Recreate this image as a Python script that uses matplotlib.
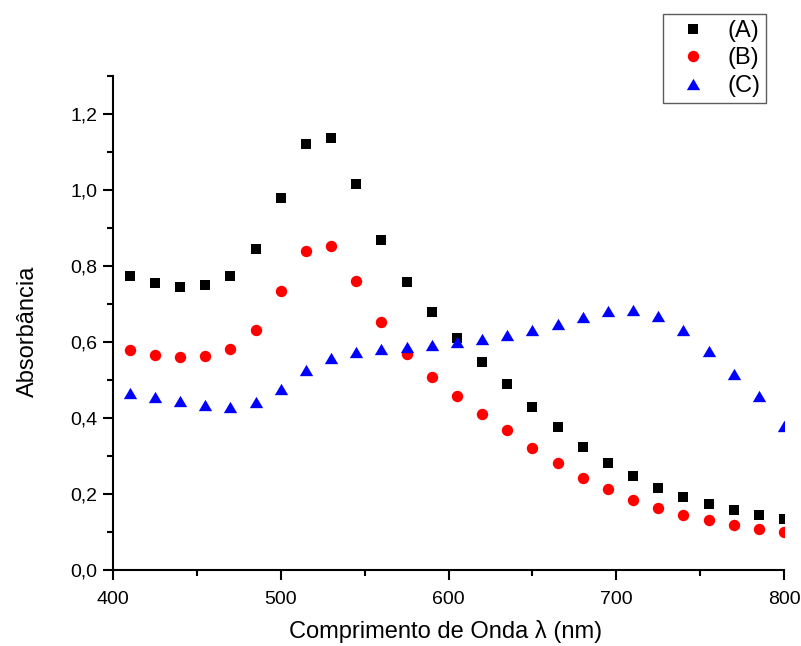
import matplotlib
matplotlib.use("Agg")
from matplotlib import pyplot as plt
from matplotlib.ticker import MultipleLocator, FuncFormatter

plt.rcParams['font.family'] = ['Liberation Sans', 'DejaVu Sans']

# wavelength (nm)
wavelength = [410, 425, 440, 455, 470, 485, 500, 515, 530, 545, 560, 575, 590, 605,
              620, 635, 650, 665, 680, 695, 710, 725, 740, 755, 770, 785, 800]

abs_a = [0.772, 0.755, 0.745, 0.749, 0.773, 0.843, 0.979, 1.121, 1.136, 1.015,
         0.868, 0.758, 0.678, 0.610, 0.548, 0.488, 0.430, 0.375, 0.324, 0.282,
         0.246, 0.216, 0.192, 0.174, 0.157, 0.146, 0.135]
abs_b = [0.578, 0.566, 0.559, 0.562, 0.580, 0.632, 0.733, 0.840, 0.852, 0.760,
         0.651, 0.567, 0.508, 0.458, 0.411, 0.367, 0.322, 0.282, 0.243, 0.212,
         0.184, 0.162, 0.144, 0.131, 0.118, 0.109, 0.100]
abs_c = [0.465, 0.455, 0.444, 0.434, 0.430, 0.442, 0.476, 0.525, 0.558, 0.574,
         0.580, 0.587, 0.593, 0.599, 0.607, 0.619, 0.631, 0.647, 0.665, 0.680,
         0.683, 0.668, 0.630, 0.576, 0.515, 0.457, 0.380]

labels = ['(A)', '(B)', '(C)']

# flattened triangle, a bit wider than tall
tri = [(0, 0.85), (-1, -0.85), (1, -0.85), (0, 0.85)]

fig = plt.figure(figsize=(8.01, 6.46), dpi=100)
ax = fig.add_axes([0.1411, 0.1176, 0.8377, 0.7652])

ax.plot(wavelength, abs_a, linestyle='none', marker='s', ms=7.6, color='black',
        markeredgewidth=0, label=labels[0])
ax.plot(wavelength, abs_b, linestyle='none', marker='o', ms=8.2, color='red',
        markeredgewidth=0, label=labels[1])
ax.plot(wavelength, abs_c, linestyle='none', marker=tri, ms=9.6, color='blue',
        markeredgewidth=0, label=labels[2])

ax.set_xlim(400, 800)
ax.set_ylim(0, 1.3)
ax.xaxis.set_major_locator(MultipleLocator(100))
ax.xaxis.set_minor_locator(MultipleLocator(50))
ax.yaxis.set_major_locator(MultipleLocator(0.2))
ax.yaxis.set_minor_locator(MultipleLocator(0.1))
ax.yaxis.set_major_formatter(FuncFormatter(lambda v, p: ('%.1f' % v).replace('.', ',')))

for side in ['top', 'right']:
    ax.spines[side].set_visible(False)
for side in ['left', 'bottom']:
    ax.spines[side].set_linewidth(1.5)

ax.tick_params(which='major', direction='out', length=7.5, width=1.5, labelsize=14)
ax.tick_params(which='minor', direction='out', length=4.5, width=1.5)
ax.tick_params(axis='x', which='major', pad=7.5)
ax.tick_params(axis='y', which='major', pad=3.5)

ax.set_xlabel('Comprimento de Onda λ (nm)', fontsize=17)
ax.set_ylabel('Absorbância', fontsize=17)
ax.xaxis.set_label_coords(0.496, -0.101)
ax.yaxis.set_label_coords(-0.111, 0.482)

leg = fig.legend(loc='upper right', bbox_to_anchor=(0.9563, 0.9783), fontsize=17,
                 frameon=True, fancybox=False, edgecolor='#333333',
                 borderpad=0.25, labelspacing=0.23, handlelength=2.1,
                 handletextpad=0.38, borderaxespad=0)
leg.get_frame().set_linewidth(1.0)

fig.savefig('out.png', dpi=100)
